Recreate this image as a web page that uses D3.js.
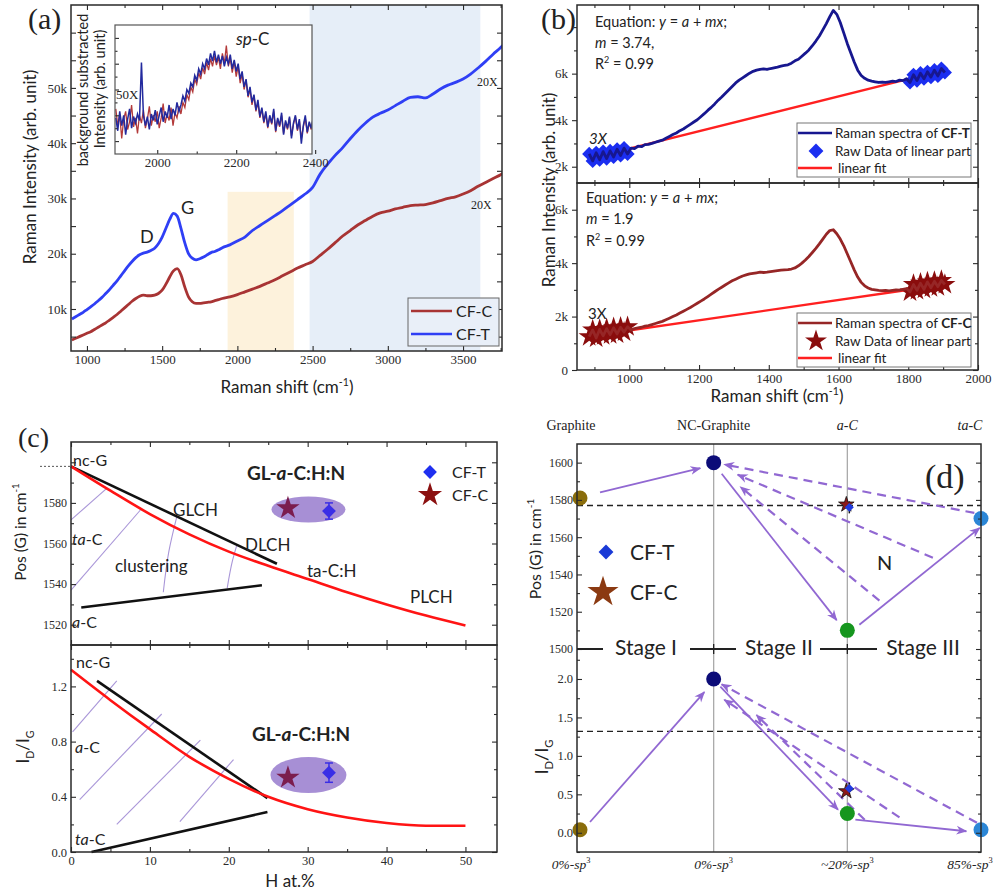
<!DOCTYPE html>
<html>
<head>
<meta charset="utf-8">
<script src="https://cdn.jsdelivr.net/npm/d3@7"></script>
<style>
  body { margin: 0; background: #fff; }
</style>
</head>
<body>
<svg id="fig" width="993" height="890"></svg>
<script>
// ---------- data ----------
// (a) full spectra, Raman shift (cm-1) and intensity (k counts)
var shiftA = [900,925,950,975,1000,1025,1050,1075,1100,1125,1150,1175,1200,1225,1250,1275,1300,1325,1350,1375,
  1400,1425,1450,1475,1500,1525,1550,1575,1600,1625,1650,1675,1700,1725,1750,1775,1800,1825,1850,1875,1900,
  1950,2000,2050,2100,2150,2200,2250,2300,2350,2400,2450,2500,2550,2600,2650,2700,2750,2800,2850,2900,
  2950,3000,3050,3100,3150,3200,3250,3300,3350,3400,3450,3500,3550,3600,3650,3700,3750,3775];
var cfT_A = [8.2,8.6,9.0,9.4,9.9,10.4,10.9,11.5,12.1,12.8,13.5,14.3,15.1,16.0,16.9,17.8,18.6,19.3,19.8,20.1,
  20.3,20.6,21.0,21.8,23.0,24.6,26.2,27.3,26.8,24.6,22.0,20.0,19.2,18.9,19.1,19.4,19.8,20.2,20.4,20.7,21.1,
  21.6,22.3,23.0,24.2,25.1,26.0,26.9,27.8,28.8,29.8,30.8,32.0,34.4,36.2,37.8,39.2,40.8,42.3,43.6,44.7,
  45.4,46.0,46.8,47.6,48.3,48.4,48.2,48.9,49.8,50.5,51.0,51.6,52.5,53.6,54.8,56.1,57.3,58.0];
var cfC_A = [4.4,4.7,5.0,5.3,5.6,5.9,6.3,6.7,7.1,7.5,8.0,8.5,9.0,9.6,10.2,10.8,11.4,11.9,12.3,12.5,
  12.4,12.4,12.5,12.8,13.4,14.5,15.8,16.9,17.3,16.2,14.0,12.2,11.3,11.0,11.0,11.1,11.2,11.3,11.5,11.7,11.9,
  12.2,12.6,13.1,13.6,14.1,14.7,15.3,16.0,16.7,17.4,18.0,18.6,19.7,20.8,22.0,23.2,24.2,25.2,26.0,26.8,
  27.4,27.7,28.1,28.4,28.7,28.8,28.9,29.2,29.6,30.0,30.3,30.8,31.4,32.2,32.9,33.6,34.3,34.7];
var spBand = [1935, 2375];      // shaded sp-C window
var bgBand = [2480, 3615];      // shaded background window

// (a) inset, background subtracted sp-C band (arb. unit)
var shiftIn = [1895,1900,1905,1910,1915,1920,1925,1930,1935,1940,1945,1950,
  1955,1960,1965,1970,1975,1980,1985,1990,1995,2000,2005,2010,2015,2020,2025,2030,2035,2040,2045,2050,
  2055,2060,2065,2070,2075,2080,2085,2090,2095,2100,2105,2110,2115,2120,2125,2130,2135,2140,2145,2150,
  2155,2160,2165,2170,2175,2180,2185,2190,2195,2200,2205,2210,2215,2220,2225,2230,2235,2240,2245,2250,
  2255,2260,2265,2270,2275,2280,2285,2290,2295,2300,2305,2310,2315,2320,2325,2330,2335,2340,2345,2350,
  2355,2360,2365,2370,2375,2380,2385,2390,2395,2400];
var inT = [28,18,33,22,30,15,27,35,20,29,24,31,
  26,71,30,22,29,19,31,26,34,23,30,36,25,33,28,38,27,35,30,40,
  33,38,45,41,50,47,55,52,61,57,66,62,70,66,74,69,78,72,80,71,
  77,70,76,68,75,70,77,66,73,64,70,58,64,52,58,45,52,40,46,34,
  42,29,36,25,33,21,30,24,35,18,28,22,32,15,26,20,29,12,24,30,
  19,27,8,22,30,17,25,20,28,24];
var inC = [35,22,30,12,27,33,19,25,38,21,28,16,
  30,24,34,20,27,37,22,30,25,33,20,28,39,24,31,26,36,22,32,28,
  37,31,40,36,46,42,52,48,58,54,63,58,67,62,71,65,74,68,76,69,
  75,66,78,70,84,68,74,63,72,60,68,55,62,50,57,44,50,38,45,33,
  40,28,35,24,31,20,29,23,33,17,27,21,30,16,25,19,28,14,23,29,
  18,26,12,21,28,16,24,19,27,23];

// (b) spectra with linear background (k counts)
var shiftB = [885,895,905,915,925,935,945,955,965,975,985,995,
  1005,1015,1025,1035,1045,1055,1065,1075,1085,1095,1105,1115,1125,1135,1145,1155,1165,1175,1185,1195,
  1205,1215,1225,1235,1245,1255,1265,1275,1285,1295,1305,1315,1325,1335,1345,1355,1365,1375,1385,1395,
  1405,1415,1425,1435,1445,1455,1465,1475,1485,1495,1505,1515,1525,1535,1545,1555,1565,1575,1585,1595,
  1605,1615,1625,1635,1645,1655,1665,1675,1685,1695,1705,1715,1725,1735,1745,1755,1765,1775,1785,1795,
  1805,1815,1825,1835,1845,1855,1865,1875,1885,1895,1905];
var cfT_B = [2.55,2.25,2.60,2.30,2.65,2.35,2.68,2.42,2.75,2.48,2.80,2.55,
  2.80,2.78,2.88,2.86,2.95,2.96,3.00,3.05,3.10,3.14,3.22,3.30,3.38,3.45,3.55,3.62,3.72,3.82,3.92,4.02,
  4.15,4.28,4.42,4.55,4.70,4.86,5.00,5.15,5.30,5.45,5.60,5.72,5.82,5.92,6.02,6.10,6.15,6.18,6.20,6.18,
  6.22,6.25,6.28,6.32,6.35,6.38,6.45,6.55,6.62,6.75,6.88,7.02,7.20,7.40,7.62,7.88,8.15,8.45,8.72,8.55,
  8.20,7.75,7.30,6.90,6.50,6.15,5.92,5.80,5.72,5.68,5.65,5.62,5.64,5.62,5.65,5.68,5.66,5.72,5.70,5.78,
  5.62,5.95,5.70,6.02,5.78,6.08,5.85,6.15,5.90,6.22,6.05];
var cfC_B = [1.25,1.50,1.20,1.52,1.28,1.55,1.32,1.58,1.35,1.60,1.42,1.62,
  1.50,1.55,1.58,1.60,1.64,1.66,1.70,1.74,1.78,1.82,1.88,1.94,2.00,2.06,2.13,2.20,2.27,2.34,2.42,2.50,
  2.58,2.66,2.75,2.84,2.93,3.02,3.10,3.18,3.26,3.34,3.40,3.46,3.52,3.56,3.60,3.62,3.64,3.66,3.65,3.66,
  3.68,3.70,3.72,3.74,3.75,3.76,3.78,3.82,3.90,4.00,4.12,4.25,4.40,4.55,4.72,4.90,5.08,5.22,5.25,5.10,
  4.90,4.65,4.35,4.05,3.75,3.48,3.28,3.15,3.07,3.02,3.00,2.98,2.97,2.98,2.96,2.98,3.00,2.99,3.02,3.05,
  2.92,3.20,2.98,3.25,3.02,3.30,3.08,3.32,3.12,3.35,3.20];
var linearParts = [[885, 1000], [1800, 1910]];
var fitT = { a: -960, m: 3.74 };
var fitC = { a: -420, m: 1.9 };

// (c) trajectory diagrams, H at.% vs Pos(G) and ID/IG
var cRedTop = [[0,1598],[5,1586],[10,1574.5],[15,1564.5],[20,1556],[25,1549],[30,1542.5],
  [35,1536],[40,1530],[45,1524.5],[50,1519.6]];
var cBlackTop = [[[0,1598],[26.1,1550]], [[1.3,1528.5],[24.2,1539.4]]];
var cLavTop = [[[0,1571.6],[4.6,1587.4]], [[0,1537],[8.8,1576.5]],
  [[11.7,1536],[12.4,1556],[13.4,1573]], [[19.8,1538],[20.5,1552],[21,1559]]];
var cRedBot = [[0,1.32],[5,1.10],[10,0.89],[15,0.69],[20,0.53],[25,0.40],[30,0.31],
  [35,0.25],[40,0.21],[45,0.19],[50,0.19]];
var cBlackBot = [[[3.3,1.24],[24.9,0.39]], [[2.6,0],[24.9,0.29]]];
var cLavBot = [[[0.2,0.87],[5.8,1.24]], [[1.1,0.38],[11.5,1.0]],
  [[5.8,0.2],[16.4,0.81]], [[13.8,0.22],[20.6,0.67]]];

// samples: CF-T, CF-C
var cfNames = ["CF-T", "CF-C"];
var cfH = [32.7, 27.5];
var cfPosG = [1576, 1577.5];
var cfPosGErr = [4, 0];
var cfIdIg = [0.575, 0.54];
var cfIdIgErr = [0.07, 0];

// (d) three-stage model
var stages = ["Graphite", "NC-Graphite", "a-C", "ta-C"];
var stageSp3 = ["0%-", "0%-", "~20%-", "85%-"];
var stagePosG = [1581, 1600, 1510, 1570];
var stageIdIg = [0.04, 2.0, 0.25, 0.04];
var refPosG = 1577;
var refIdIg = 1.32;
var arrTopSolid = [[[0.15,1584],[0.9,1597]], [[1.06,1594],[1.92,1515.5]], [[2.09,1513],[2.99,1565]]];
var arrTopDash = [[[2.95,1573],[1.08,1599]], [[2.64,1549],[1.18,1593.5]], [[2.24,1526],[1.2,1587]]];
var arrBotSolid = [[[0.075,0.14],[0.93,1.83]], [[1.05,1.9],[1.93,0.3]], [[2.06,0.17],[2.89,0.02]]];
var arrBotDash = [[[2.97,0.13],[1.06,1.93]], [[2.39,0.2],[1.08,1.73]], [[2.13,0.17],[1.32,1.53]]];

// ---------- helpers ----------
var svg = d3.select("#fig");
var SANS = "Lato, 'Open Sans', sans-serif";
var SERIF = "'Liberation Serif', serif";
var INK = "#2a2a2a";
var PURPLE = "#9168d2";

function tickSide(g, axisFn, scale, vals, size, tr, fmt, fs) {
  var ax = axisFn(scale).tickValues(vals).tickSize(size).tickPadding(4)
    .tickFormat(fmt || function() { return ""; });
  var s = g.append("g").attr("transform", tr).call(ax);
  s.select(".domain").remove();
  s.selectAll("line").attr("stroke", INK).attr("stroke-width", 1.1);
  s.selectAll("text").attr("font-family", SERIF).attr("font-size", fs || 13).attr("fill", INK);
  return s;
}

// ticks on all four sides plus a box
function frame(g, sx, sy, c) {
  var x0 = sx.range()[0], x1 = sx.range()[1], yb = sy.range()[0], yt = sy.range()[1];
  var L = c.len || 5, m = L * 0.6;
  if (c.xMajor) {
    tickSide(g, d3.axisBottom, sx, c.xMajor, -L, "translate(0," + yb + ")", c.xFmt, c.fs);
    if (c.xMinor) tickSide(g, d3.axisBottom, sx, c.xMinor, -m, "translate(0," + yb + ")");
    tickSide(g, d3.axisTop, sx, c.xMajor, -L, "translate(0," + yt + ")");
    if (c.xMinor) tickSide(g, d3.axisTop, sx, c.xMinor, -m, "translate(0," + yt + ")");
  }
  if (c.yMajor) {
    tickSide(g, d3.axisLeft, sy, c.yMajor, c.yOut ? L : -L, "translate(" + x0 + ",0)", c.yFmt, c.fs);
    if (c.yMinor) tickSide(g, d3.axisLeft, sy, c.yMinor, c.yOut ? m : -m, "translate(" + x0 + ",0)");
    tickSide(g, d3.axisRight, sy, c.yMajor, -L, "translate(" + x1 + ",0)");
    if (c.yMinor) tickSide(g, d3.axisRight, sy, c.yMinor, -m, "translate(" + x1 + ",0)");
  }
  if (c.box !== false)
    g.append("rect").attr("x", x0).attr("y", yt).attr("width", x1 - x0).attr("height", yb - yt)
      .attr("fill", "none").attr("stroke", INK).attr("stroke-width", c.sw || 1.5);
}

// text with italic / bold / super / subscript parts
function rich(sel, x, y, parts, size, family, anchor, rotate, fill) {
  var t = sel.append("text").attr("x", x).attr("y", y).attr("font-size", size)
    .attr("font-family", family || SANS).attr("fill", fill || "#222");
  if (anchor) t.attr("text-anchor", anchor);
  if (rotate) t.attr("transform", "rotate(" + rotate + "," + x + "," + y + ")");
  var shift = 0;
  parts.forEach(function(p) {
    if (typeof p === "string") p = { t: p };
    var s = t.append("tspan").text(p.t);
    var want = p.sup ? -size * 0.42 : p.sub ? size * 0.28 : 0;
    if (want !== shift) { s.attr("dy", want - shift); shift = want; }
    if (p.sup || p.sub) s.attr("font-size", size * 0.62);
    if (p.it) s.attr("font-style", "italic");
    if (p.b) s.attr("font-weight", "bold");
  });
  return t;
}

function diamond(size) { return d3.symbol().type(d3.symbolSquare).size(size)(); }
function star(size) { return d3.symbol().type(d3.symbolStar).size(size)(); }

var defs = svg.append("defs");
defs.append("marker").attr("id", "arr").attr("viewBox", "0 0 10 10").attr("refX", 9).attr("refY", 5)
  .attr("markerWidth", 11).attr("markerHeight", 11).attr("markerUnits", "userSpaceOnUse")
  .attr("orient", "auto")
  .append("path").attr("d", "M0,1 L10,5 L0,9 L3,5 Z").attr("fill", PURPLE);

// ---------- panel (a) ----------
var gA = svg.append("g");
var xA = d3.scaleLinear().domain([894, 3759]).range([71, 502]);
var yA = d3.scaleLinear().domain([2.4, 65]).range([351, 5]);
defs.append("clipPath").attr("id", "clipA").append("rect").attr("x", 71).attr("y", 5).attr("width", 431).attr("height", 346);

gA.append("rect").attr("x", xA(bgBand[0])).attr("width", xA(bgBand[1]) - xA(bgBand[0]))
  .attr("y", 5).attr("height", 346).attr("fill", "#e6eef8");
gA.append("rect").attr("x", xA(spBand[0])).attr("width", xA(spBand[1]) - xA(spBand[0]))
  .attr("y", yA(31.2)).attr("height", yA(2.4) - yA(31.2)).attr("fill", "#fdf2dc");

var lineA = d3.line().x(function(d) { return xA(d[0]); }).y(function(d) { return yA(d[1]); }).curve(d3.curveMonotoneX);
gA.append("path").attr("clip-path", "url(#clipA)").attr("d", lineA(d3.zip(shiftA, cfC_A)))
  .attr("fill", "none").attr("stroke", "#a83434").attr("stroke-width", 2.8);
gA.append("path").attr("clip-path", "url(#clipA)").attr("d", lineA(d3.zip(shiftA, cfT_A)))
  .attr("fill", "none").attr("stroke", "#2f3ff5").attr("stroke-width", 2.8);

frame(gA, xA, yA, {
  xMajor: [1000, 1500, 2000, 2500, 3000, 3500], xMinor: [1250, 1750, 2250, 2750, 3250, 3750],
  xFmt: function(d) { return d; },
  yMajor: d3.range(5, 65, 5),
  yFmt: function(d) { return (d % 10 === 0 && d <= 50) ? d + "k" : ""; }
});

rich(gA, 140, 243, ["D"], 18, SANS);
rich(gA, 181, 214, ["G"], 18, SANS);
rich(gA, 477, 86, ["20X"], 12, SERIF);
rich(gA, 471, 209, ["20X"], 12, SERIF);

// legend (a)
var legA = gA.append("g");
legA.append("rect").attr("x", 408).attr("y", 298).attr("width", 91).attr("height", 48)
  .attr("fill", "#e9eff8").attr("stroke", "#666").attr("stroke-width", 1);
[["CF-C", "#a83434", 311], ["CF-T", "#2f3ff5", 334]].forEach(function(e) {
  legA.append("line").attr("x1", 411).attr("x2", 452).attr("y1", e[2]).attr("y2", e[2])
    .attr("stroke", e[1]).attr("stroke-width", 2.4);
  rich(legA, 456, e[2] + 6, [e[0]], 16, SANS);
});

// inset
var xI = d3.scaleLinear().domain([1893, 2392]).range([115, 312]);
var yI = d3.scaleLinear().domain([0, 100]).range([154, 25]);
gA.append("rect").attr("x", 115).attr("y", 25).attr("width", 197).attr("height", 129).attr("fill", "#fff");
defs.append("clipPath").attr("id", "clipI").append("rect").attr("x", 115).attr("y", 25).attr("width", 197).attr("height", 129);
var lineI = d3.line().x(function(d) { return xI(d[0]); }).y(function(d) { return yI(d[1]); });
gA.append("path").attr("clip-path", "url(#clipI)").attr("d", lineI(d3.zip(shiftIn, inC)))
  .attr("fill", "none").attr("stroke", "#b33a3a").attr("stroke-width", 1.3);
gA.append("path").attr("clip-path", "url(#clipI)").attr("d", lineI(d3.zip(shiftIn, inT)))
  .attr("fill", "none").attr("stroke", "#232a9e").attr("stroke-width", 1.5);
tickSide(gA, d3.axisBottom, xI, [2000, 2200, 2400], -4, "translate(0,154)", function(d) { return d; }, 13);
tickSide(gA, d3.axisBottom, xI, [2100, 2300], -2.5, "translate(0,154)");
tickSide(gA, d3.axisLeft, yI, [10, 30, 50, 70, 90], -4, "translate(115,0)");
tickSide(gA, d3.axisLeft, yI, [20, 40, 60, 80], -2.5, "translate(115,0)");
gA.append("rect").attr("x", 115).attr("y", 25).attr("width", 197).attr("height", 129)
  .attr("fill", "none").attr("stroke", "#555").attr("stroke-width", 1.2);
rich(gA, 236, 45, [{ t: "sp", it: true }, "-C"], 17, SANS);
rich(gA, 116, 99, ["50X"], 13, SERIF);
rich(gA, 88, 90, ["background substracted"], 14.5, SANS, "middle", -90);
rich(gA, 105, 89, ["Intensity (arb. unit)"], 14.5, SANS, "middle", -90);

rich(gA, 36, 167, ["Raman Intensity (arb. unit)"], 17, SANS, "middle", -90);
rich(gA, 287, 393, ["Raman shift (cm", { t: "-1", sup: true }, ")"], 17, SANS, "middle");
rich(gA, 28, 29, ["(a)"], 30, SERIF);

// ---------- panel (b) ----------
var gB = svg.append("g");
var xB = d3.scaleLinear().domain([850, 2000]).range([577, 978]);
var yBt = d3.scaleLinear().domain([1.3, 8.95]).range([183, 5]);
var yBb = d3.scaleLinear().domain([0, 7]).range([370, 183]);

function specPanel(g, sy, vals, fit, lineCol, markFn, markCol, rot, clipId) {
  var x0 = xB.range()[0], x1 = xB.range()[1], yb = sy.range()[0], yt = sy.range()[1];
  defs.append("clipPath").attr("id", clipId).append("rect").attr("x", x0).attr("y", yt)
    .attr("width", x1 - x0).attr("height", yb - yt);
  var data = d3.zip(shiftB, vals);
  var gc = g.append("g").attr("clip-path", "url(#" + clipId + ")");
  var ends = [shiftB[0], shiftB[shiftB.length - 1]];
  gc.append("line").attr("x1", xB(ends[0])).attr("x2", xB(ends[1]))
    .attr("y1", sy((fit.a + fit.m * ends[0]) / 1000)).attr("y2", sy((fit.a + fit.m * ends[1]) / 1000))
    .attr("stroke", "#ff2020").attr("stroke-width", 2.4);
  var lin = data.filter(function(d) {
    return linearParts.some(function(r) { return d[0] >= r[0] && d[0] <= r[1]; });
  });
  gc.selectAll(null).data(lin).enter().append("path")
    .attr("d", markFn)
    .attr("transform", function(d) { return "translate(" + xB(d[0]) + "," + sy(d[1]) + ")" + (rot ? " rotate(45)" : ""); })
    .attr("fill", markCol);
  gc.append("path").attr("d", d3.line().x(function(d) { return xB(d[0]); }).y(function(d) { return sy(d[1]); })(data))
    .attr("fill", "none").attr("stroke", lineCol).attr("stroke-width", 2.8).attr("stroke-linejoin", "round");
}
specPanel(gB, yBt, cfT_B, fitT, "#17178f", diamond(100), "#1b2ef0", true, "clipBt");
specPanel(gB, yBb, cfC_B, fitC, "#962626", star(140), "#8a0d0d", false, "clipBb");

var xMajB = [1000, 1200, 1400, 1600, 1800, 2000], xMinB = [900, 1100, 1300, 1500, 1700, 1900];
frame(gB, xB, yBt, { xMajor: xMajB, xMinor: xMinB, yMajor: [2, 4, 6], yMinor: [3, 5, 7, 8],
  yFmt: function(d) { return d + "k"; }, yOut: true });
frame(gB, xB, yBb, { xMajor: xMajB, xMinor: xMinB, xFmt: function(d) { return d; },
  yMajor: [0, 2, 4, 6], yMinor: [1, 3, 5], yFmt: function(d) { return d === 0 ? "0" : d + "k"; }, yOut: true });

// equations
rich(gB, 595, 27, ["Equation: ", { t: "y", it: true }, " = ", { t: "a", it: true }, " + ", { t: "mx", it: true }, ";"], 14.5, SANS);
rich(gB, 595, 48, [{ t: "m", it: true }, " = 3.74,"], 14.5, SANS);
rich(gB, 595, 69, ["R", { t: "2", sup: true }, " = 0.99"], 14.5, SANS);
rich(gB, 586, 203, ["Equation: ", { t: "y", it: true }, " = ", { t: "a", it: true }, " + ", { t: "mx", it: true }, ";"], 14.5, SANS);
rich(gB, 586, 224, [{ t: "m", it: true }, " = 1.9"], 14.5, SANS);
rich(gB, 586, 246, ["R", { t: "2", sup: true }, " = 0.99"], 14.5, SANS);
rich(gB, 589, 144, [{ t: "3X", it: true }], 15, SANS);
rich(gB, 588, 319, ["3X"], 15, SANS);

function legendB(g, y0, name, lineCol, mark, markCol, rot) {
  g.append("rect").attr("x", 797).attr("y", y0).attr("width", 174).attr("height", 54)
    .attr("fill", "#fff").attr("stroke", "#777").attr("stroke-width", 1);
  g.append("line").attr("x1", 798).attr("x2", 832).attr("y1", y0 + 10).attr("y2", y0 + 10)
    .attr("stroke", lineCol).attr("stroke-width", 2.4);
  rich(g, 835, y0 + 15, ["Raman spectra of ", { t: name, b: true }], 13.5, SANS);
  g.append("path").attr("d", mark).attr("fill", markCol)
    .attr("transform", "translate(816," + (y0 + 28) + ")" + (rot ? " rotate(45)" : ""));
  rich(g, 835, y0 + 33, ["Raw Data of linear part"], 13.5, SANS);
  g.append("line").attr("x1", 798).attr("x2", 832).attr("y1", y0 + 45).attr("y2", y0 + 45)
    .attr("stroke", "#ff2020").attr("stroke-width", 2.4);
  rich(g, 838, y0 + 50, ["linear fit"], 13.5, SANS);
}
legendB(gB, 123, "CF-T", "#17178f", diamond(110), "#1b2ef0", true);
legendB(gB, 313, "CF-C", "#962626", star(150), "#8a0d0d", false);

rich(gB, 555, 190, ["Raman Intensity (arb. unit)"], 17, SANS, "middle", -90);
rich(gB, 777, 402, ["Raman shift (cm", { t: "-1", sup: true }, ")"], 17, SANS, "middle");
rich(gB, 541, 29, ["(b)"], 30, SERIF);

// ---------- panel (c) ----------
var gC = svg.append("g");
var xC = d3.scaleLinear().domain([0, 54]).range([71, 497]);
var yCt = d3.scaleLinear().domain([1510, 1610]).range([645, 442]);
var yCb = d3.scaleLinear().domain([0, 1.5]).range([852, 645]);

function trajectory(g, sy, red, blacks, lavs) {
  var ln = d3.line().x(function(d) { return xC(d[0]); }).y(function(d) { return sy(d[1]); });
  lavs.forEach(function(l) {
    g.append("path").attr("d", ln.curve(d3.curveMonotoneY)(l)).attr("fill", "none")
      .attr("stroke", "#a996d8").attr("stroke-width", 1.1);
  });
  blacks.forEach(function(l) {
    g.append("path").attr("d", ln.curve(d3.curveLinear)(l)).attr("fill", "none")
      .attr("stroke", "#111").attr("stroke-width", 2.6);
  });
  g.append("path").attr("d", ln.curve(d3.curveMonotoneX)(red)).attr("fill", "none")
    .attr("stroke", "#ff1414").attr("stroke-width", 2.6);
}
trajectory(gC, yCt, cRedTop, cBlackTop, cLavTop);
trajectory(gC, yCb, cRedBot, cBlackBot, cLavBot);

function samples(g, sy, vals, errs, rx, ry) {
  var cx = xC(d3.mean(cfH)), cy = sy(d3.mean(vals));
  g.append("ellipse").attr("cx", cx).attr("cy", cy).attr("rx", rx).attr("ry", ry)
    .attr("fill", "#9d83d0").attr("opacity", 0.9);
  // CF-T diamond with error bar
  var x = xC(cfH[0]);
  g.append("line").attr("x1", x).attr("x2", x).attr("y1", sy(vals[0] - errs[0])).attr("y2", sy(vals[0] + errs[0]))
    .attr("stroke", "#3a2ee6").attr("stroke-width", 1.5);
  [vals[0] - errs[0], vals[0] + errs[0]].forEach(function(v) {
    g.append("line").attr("x1", x - 4).attr("x2", x + 4).attr("y1", sy(v)).attr("y2", sy(v))
      .attr("stroke", "#3a2ee6").attr("stroke-width", 1.5);
  });
  g.append("path").attr("d", diamond(95)).attr("fill", "#3a2ee6")
    .attr("transform", "translate(" + x + "," + sy(vals[0]) + ") rotate(45)");
  g.append("path").attr("d", star(170)).attr("fill", "#7b1d4e")
    .attr("transform", "translate(" + xC(cfH[1]) + "," + sy(vals[1]) + ")");
}
samples(gC, yCt, cfPosG, cfPosGErr, 37, 13);
samples(gC, yCb, cfIdIg, cfIdIgErr, 38, 18);

frame(gC, xC, yCt, { xMajor: [0, 10, 20, 30, 40, 50], xMinor: [5, 15, 25, 35, 45],
  yMajor: [1520, 1540, 1560, 1580, 1600], yMinor: [1530, 1550, 1570, 1590],
  yFmt: function(d) { return d < 1600 ? d : ""; }, fs: 12 });
frame(gC, xC, yCb, { xMajor: [0, 10, 20, 30, 40, 50], xMinor: [5, 15, 25, 35, 45],
  xFmt: function(d) { return d; }, yMajor: [0, 0.4, 0.8, 1.2], yMinor: [0.2, 0.6, 1.0, 1.4],
  yFmt: d3.format(".1f"), fs: 12.5 });
gC.append("line").attr("x1", 40).attr("x2", 70).attr("y1", yCt(1598)).attr("y2", yCt(1598))
  .attr("stroke", "#555").attr("stroke-dasharray", "2,2").attr("stroke-width", 1);

// labels (c) top
rich(gC, 73, 466, ["nc-G"], 16, SANS);
rich(gC, 72, 545, [{ t: "ta", it: true }, "-C"], 16, SANS);
rich(gC, 72, 628, [{ t: "a", it: true }, "-C"], 16, SANS);
rich(gC, 173, 516, ["GLCH"], 17, SANS);
rich(gC, 245, 551, ["DLCH"], 17, SANS);
rich(gC, 115, 572, ["clustering"], 17, SANS);
rich(gC, 307, 577, ["ta-C:H"], 17, SANS);
rich(gC, 410, 603, ["PLCH"], 17, SANS);
rich(gC, 247, 480, ["GL-", { t: "a", it: true }, "-C:H:N"], 19, SANS).attr("font-weight", "bold");
gC.append("path").attr("d", diamond(95)).attr("fill", "#1f2ff0").attr("transform", "translate(430,472) rotate(45)");
rich(gC, 452, 478, [cfNames[0]], 16, SANS);
gC.append("path").attr("d", star(180)).attr("fill", "#8b1010").attr("transform", "translate(430,495)");
rich(gC, 452, 501, [cfNames[1]], 16, SANS);
// labels (c) bottom
rich(gC, 76, 668, ["nc-G"], 16, SANS);
rich(gC, 75, 753, [{ t: "a", it: true }, "-C"], 16, SANS);
rich(gC, 75, 845, [{ t: "ta", it: true }, "-C"], 16, SANS);
rich(gC, 252, 741, ["GL-", { t: "a", it: true }, "-C:H:N"], 19, SANS).attr("font-weight", "bold");

rich(gC, 26, 532, ["Pos (G) in cm", { t: "-1", sup: true }], 15.5, SANS, "middle", -90);
rich(gC, 29, 747, ["I", { t: "D", sub: true }, "/I", { t: "G", sub: true }], 17, SANS, "middle", -90);
rich(gC, 290, 887, ["H at.%"], 17, SANS, "middle");
rich(gC, 18, 447, ["(c)"], 28, SERIF);

// ---------- panel (d) ----------
var gD = svg.append("g");
var xD = d3.scaleLinear().domain([0, 3]).range([580, 981]);
var yDt = d3.scaleLinear().domain([1500, 1610]).range([649, 444]);
var yDb = d3.scaleLinear().domain([-0.25, 2.39]).range([852, 649]);
var stageCols = ["#8a6d0b", "#0c0c78", "#16961e", "#2b86d6"];

[1, 2].forEach(function(i) {
  gD.append("line").attr("x1", xD(i)).attr("x2", xD(i)).attr("y1", 444).attr("y2", 852)
    .attr("stroke", "#aaa").attr("stroke-width", 1.3);
});
gD.append("line").attr("x1", 577).attr("x2", 981).attr("y1", yDt(refPosG)).attr("y2", yDt(refPosG))
  .attr("stroke", "#222").attr("stroke-width", 1.3).attr("stroke-dasharray", "6,4");
gD.append("line").attr("x1", 577).attr("x2", 981).attr("y1", yDb(refIdIg)).attr("y2", yDb(refIdIg))
  .attr("stroke", "#222").attr("stroke-width", 1.3).attr("stroke-dasharray", "6,4");

function arrows(g, sy, list, dashed) {
  list.forEach(function(a) {
    var l = g.append("line").attr("x1", xD(a[0][0])).attr("y1", sy(a[0][1]))
      .attr("x2", xD(a[1][0])).attr("y2", sy(a[1][1]))
      .attr("stroke", PURPLE).attr("stroke-width", dashed ? 2.2 : 1.8).attr("marker-end", "url(#arr)");
    if (dashed) l.attr("stroke-dasharray", "9,6");
  });
}
arrows(gD, yDt, arrTopSolid, false);
arrows(gD, yDt, arrTopDash, true);
arrows(gD, yDb, arrBotSolid, false);
arrows(gD, yDb, arrBotDash, true);

stages.forEach(function(s, i) {
  gD.append("circle").attr("cx", xD(i)).attr("cy", yDt(stagePosG[i])).attr("r", 7.5).attr("fill", stageCols[i]);
  gD.append("circle").attr("cx", xD(i)).attr("cy", yDb(stageIdIg[i])).attr("r", 7.5).attr("fill", stageCols[i]);
});

function dSamples(sy, vals, errs) {
  var x = xD(2) + 2;
  gD.append("line").attr("x1", x).attr("x2", x).attr("y1", sy(vals[0]) - 6).attr("y2", sy(vals[0]) + 6)
    .attr("stroke", "#111").attr("stroke-width", 1.5);
  gD.append("path").attr("d", star(75)).attr("fill", "#8b1a1a").attr("stroke", "#111").attr("stroke-width", 0.8)
    .attr("transform", "translate(" + (xD(2) - 1) + "," + sy(vals[1]) + ")");
  gD.append("path").attr("d", diamond(40)).attr("fill", "#1f3ae0")
    .attr("transform", "translate(" + x + "," + sy(vals[0]) + ") rotate(45)");
}
dSamples(yDt, cfPosG, cfPosGErr);
dSamples(yDb, cfIdIg, cfIdIgErr);

// axes (d)
tickSide(gD, d3.axisLeft, yDt, [1500, 1520, 1540, 1560, 1580, 1600], -5, "translate(577,0)", function(d) { return d; }, 12);
tickSide(gD, d3.axisLeft, yDt, [1510, 1530, 1550, 1570, 1590], -3, "translate(577,0)");
tickSide(gD, d3.axisRight, yDt, [1500, 1520, 1540, 1560, 1580, 1600], -5, "translate(981,0)");
tickSide(gD, d3.axisRight, yDt, [1510, 1530, 1550, 1570, 1590], -3, "translate(981,0)");
tickSide(gD, d3.axisLeft, yDb, [0, 0.5, 1, 1.5, 2], -5, "translate(577,0)", d3.format(".1f"), 12.5);
tickSide(gD, d3.axisLeft, yDb, [-0.25, 0.25, 0.75, 1.25, 1.75, 2.25], -3, "translate(577,0)");
tickSide(gD, d3.axisRight, yDb, [0, 0.5, 1, 1.5, 2], -5, "translate(981,0)");
tickSide(gD, d3.axisRight, yDb, [-0.25, 0.25, 0.75, 1.25, 1.75, 2.25], -3, "translate(981,0)");
gD.append("rect").attr("x", 577).attr("y", 444).attr("width", 404).attr("height", 408)
  .attr("fill", "none").attr("stroke", INK).attr("stroke-width", 1.5);

// stage divider row
var yS = yDt(1500);
[[577, 603], [690, 736], [820, 877]].forEach(function(s) {
  gD.append("line").attr("x1", s[0]).attr("x2", s[1]).attr("y1", yS).attr("y2", yS)
    .attr("stroke", "#222").attr("stroke-width", 2);
});
[1, 2].forEach(function(i) {
  gD.append("line").attr("x1", xD(i)).attr("x2", xD(i)).attr("y1", yS - 5).attr("y2", yS + 5)
    .attr("stroke", "#222").attr("stroke-width", 1.3);
});
rich(gD, 646, 655, ["Stage I"], 21, SANS, "middle");
rich(gD, 779, 655, ["Stage II"], 21, SANS, "middle");
rich(gD, 923, 655, ["Stage III"], 21, SANS, "middle");

// category labels
var topOff = [-9, 0, 0, -11];
stages.forEach(function(s, i) {
  var parts = (s === "a-C" || s === "ta-C") ? [{ t: s, it: true }] : [s];
  rich(gD, xD(i) + topOff[i], 430, parts, 14, SERIF, "middle");
  rich(gD, xD(i) + topOff[i], 869, [{ t: stageSp3[i], it: true }, { t: "sp", it: true }, { t: "3", sup: true }], 13.5, SERIF, "middle");
});

// legend (d)
gD.append("path").attr("d", diamond(110)).attr("fill", "#1a3ad6").attr("transform", "translate(606,552) rotate(45)");
rich(gD, 630, 560, [cfNames[0]], 21, SANS);
gD.append("path").attr("d", star(300)).attr("fill", "#8b3a12").attr("transform", "translate(603,592)");
rich(gD, 630, 600, [cfNames[1]], 21, SANS);

rich(gD, 877, 570, ["N"], 20, SANS);
rich(gD, 925, 488, ["(d)"], 34, SERIF);
rich(gD, 541, 549, ["Pos (G) in cm", { t: "-1", sup: true }], 16, SANS, "middle", -90);
rich(gD, 548, 757, ["I", { t: "D", sub: true }, "/I", { t: "G", sub: true }], 18, SANS, "middle", -90);
</script>
</body>
</html>
